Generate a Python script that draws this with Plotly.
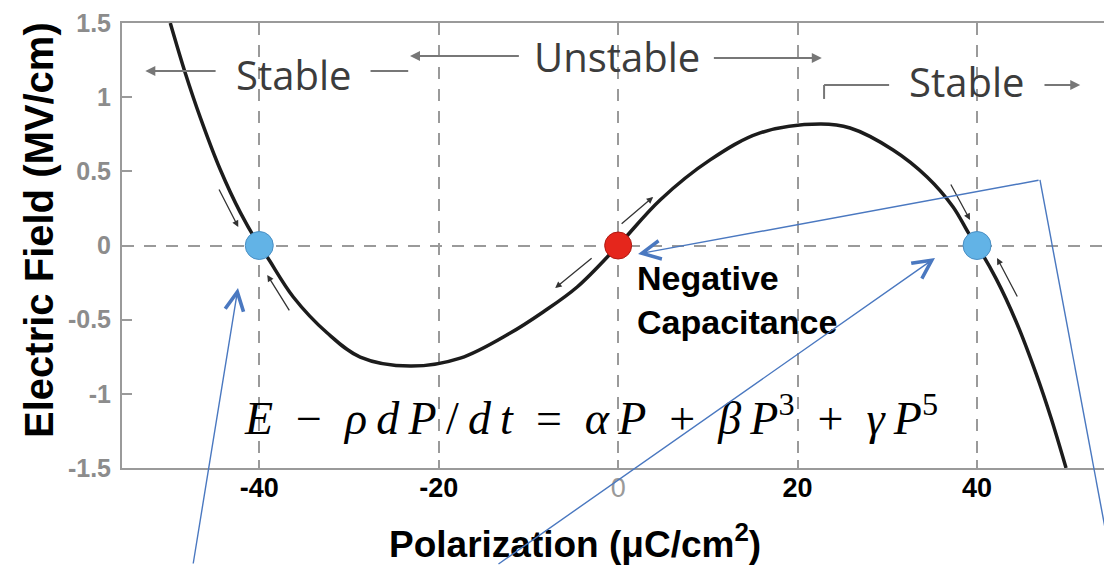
import plotly.graph_objects as go

# ---------------- data ----------------
P_curve = [-49.92, -48.25, -46.57, -44.35, -42.12, -40.0, -39.11, -36.21, -32.42, -28.75,
           -23.18, -17.60, -12.03, -8.36, -4.57, 0.0, 4.68, 10.25, 15.82, 22.51,
           25.85, 30.64, 34.43, 37.33, 39.11, 40.0, 42.12, 44.35, 46.57, 48.25, 49.92]
E_curve = [1.50, 1.163, 0.862, 0.512, 0.223, 0.0, -0.078, -0.347, -0.590, -0.752,
           -0.813, -0.759, -0.590, -0.448, -0.280, 0.0, 0.307, 0.577, 0.759, 0.819,
           0.792, 0.644, 0.462, 0.260, 0.078, 0.0, -0.223, -0.512, -0.862, -1.163, -1.50]

stable_P = [-40.0, 40.0]
stable_E = [0.0, 0.0]
unstable_P = [0.0]
unstable_E = [0.0]

x_ticks = [-40, -20, 0, 20, 40]
x_ticktext = ["-40", "-20", "<span style='color:#9a9a9a;font-weight:normal'>0</span>", "20", "40"]
y_ticks = [-1.5, -1, -0.5, 0, 0.5, 1, 1.5]
y_ticktext = ["-1.5", "-1", "-0.5", "0", "0.5", "1", "1.5"]

GRAY = "#9a9a9a"
DARK = "#555555"
BLUE = "#4a78c0"
SANS = "Liberation Sans, Arial, sans-serif"

fig = go.Figure()

fig.add_trace(go.Scatter(x=P_curve, y=E_curve, mode="lines",
                         line=dict(color="#1c1c1c", width=3.5, shape="spline", smoothing=1.0),
                         hoverinfo="skip", showlegend=False))
fig.add_trace(go.Scatter(x=stable_P, y=stable_E, mode="markers",
                         marker=dict(size=28, color="#62b3e6", line=dict(color="#4a8fc4", width=1)),
                         showlegend=False))
fig.add_trace(go.Scatter(x=unstable_P, y=unstable_E, mode="markers",
                         marker=dict(size=27, color="#e5261c", line=dict(color="#b01810", width=1)),
                         showlegend=False))
# invisible trace on the overlay axis so the y=0 dashed grid line is drawn
fig.add_trace(go.Scatter(x=[0], y=[0], yaxis="y2", mode="markers",
                         marker=dict(opacity=0), hoverinfo="skip", showlegend=False))

annotations = []

def arrow(xh, yh, xt, yt, color=DARK, width=2, head=2, size=1.0):
    annotations.append(dict(x=xh, y=yh, ax=xt, ay=yt, xref="x", yref="y", axref="x", ayref="y",
                            text="", showarrow=True, arrowhead=head, arrowsize=size,
                            arrowwidth=width, arrowcolor=color))

# Stable / Unstable region labels
for txt, xc, yc in [("Stable", -36.2, 1.156), ("Unstable", -0.1, 1.271), ("Stable", 38.8, 1.103)]:
    annotations.append(dict(x=xc, y=yc, xref="x", yref="y", text=txt, showarrow=False,
                            font=dict(family="Open Sans, sans-serif", size=40, color="#3c3c3c"),
                            xanchor="center", yanchor="middle"))
arrow(-52.7, 1.177, -44.7, 1.177, color="#777777")
arrow(-23.2, 1.278, -10.9, 1.278, color="#777777")
arrow(22.7, 1.264, 10.5, 1.264, color="#777777")
arrow(51.5, 1.082, 47.35, 1.082, color="#777777")

shapes = [
    dict(type="line", xref="x", yref="y", x0=-27.6, x1=-23.4, y0=1.177, y1=1.177,
         line=dict(color="#777777", width=2)),
    dict(type="line", xref="x", yref="y", x0=22.95, x1=30.2, y0=1.082, y1=1.082,
         line=dict(color="#777777", width=2)),
    dict(type="line", xref="x", yref="y", x0=22.95, x1=22.95, y0=1.082, y1=0.988,
         line=dict(color="#777777", width=2)),
]

# small arrows along the curve
arrow(-42.34, 0.125, -44.57, 0.388, color="#333333", width=1.3)
arrow(-39.11, -0.199, -36.55, -0.448, color="#333333", width=1.3)
arrow(3.90, 0.327, 0.22, 0.138, color="#333333", width=1.3)
arrow(-7.02, -0.287, -2.79, -0.078, color="#333333", width=1.3)
arrow(39.22, 0.172, 36.99, 0.421, color="#333333", width=1.3)
arrow(42.23, -0.084, 44.57, -0.354, color="#333333", width=1.3)

# Negative capacitance label
annotations.append(dict(x=1.9, y=-0.075, xref="x", yref="y",
                        text="<b>Negative<br>Capacitance</b>", showarrow=False, align="left",
                        font=dict(family=SANS, size=34, color="#000000"),
                        xanchor="left", yanchor="top"))

# equation
EQ = ("<i>E</i>\u2002−\u2002<i>ρ\u2009d\u2009P</i>\u2009/\u2009<i>d\u2009t</i>\u2002=\u2002"
      "<i>α\u2009P</i>\u2002+\u2002<i>β\u2009P</i><sup>3</sup>\u2002+\u2002<i>γ\u2009P</i><sup>5</sup>")
annotations.append(dict(x=-3.0, y=-1.14, xref="x", yref="y", text=EQ,
                        showarrow=False, font=dict(family="Liberation Serif, Times New Roman, serif", size=46,
                                                   color="#000000"),
                        xanchor="center", yanchor="middle"))

# axis titles
annotations.append(dict(x=0.461, y=-0.165, xref="paper", yref="paper",
                        text="<b>Polarization (μC/cm<sup>2</sup>)</b>", showarrow=False,
                        font=dict(family=SANS, size=37, color="#000000"),
                        xanchor="center", yanchor="middle"))
annotations.append(dict(x=-0.0845, y=0.535, xref="paper", yref="paper", textangle=-90,
                        text="<b>Electric Field (MV/cm)</b>", showarrow=False,
                        font=dict(family=SANS, size=40, color="#000000"),
                        xanchor="center", yanchor="middle"))

# blue overlay pointer lines (paper-referenced)
for (xh, yh, axp, ayp) in [(0.1181, 0.4045, -45, 277), (0.8279, 0.4719, -438, 307), (0.5255, 0.4809, 402, -74)]:
    annotations.append(dict(x=xh, y=yh, xref="paper", yref="paper", ax=axp, ay=ayp,
                            axref="pixel", ayref="pixel", text="", showarrow=True,
                            arrowhead=5, arrowsize=2.6, arrowwidth=1.4, arrowcolor=BLUE))
shapes.append(dict(type="line", xref="paper", yref="paper", x0=0.9348, y0=0.6472, x1=1.0081, y1=-0.218,
                   line=dict(color=BLUE, width=1.4)))

fig.update_layout(
    width=1104, height=565,
    margin=dict(l=122, r=0, t=23, b=97),
    paper_bgcolor="white", plot_bgcolor="white",
    showlegend=False,
    xaxis=dict(range=[-55.3, 54.15], tickvals=x_ticks, ticktext=x_ticktext,
               showline=True, linecolor=GRAY, linewidth=2, mirror="ticks",
               ticks="inside", ticklen=8, tickcolor=GRAY, tickwidth=2,
               showgrid=True, gridcolor=GRAY, gridwidth=2, griddash="12px,10px",
               zeroline=False, ticklabelstandoff=-5,
               tickfont=dict(family=SANS, size=27, color="#000000", weight="bold")),
    yaxis=dict(range=[-1.5, 1.5], tickvals=y_ticks, ticktext=y_ticktext,
               showline=True, linecolor=GRAY, linewidth=2, mirror=False,
               ticks="inside", ticklen=10, tickcolor=GRAY, tickwidth=2,
               showgrid=False, zeroline=False, ticklabelstandoff=4,
               tickfont=dict(family=SANS, size=25, color="#8c8c8c", weight="bold")),
    yaxis2=dict(range=[-1.5, 1.5], overlaying="y", tickvals=[0], showticklabels=False,
                showgrid=True, gridcolor=GRAY, gridwidth=2, griddash="12px,10px",
                zeroline=False, showline=False, ticks=""),
    annotations=annotations,
    shapes=shapes,
)

fig.write_html("out.html")
